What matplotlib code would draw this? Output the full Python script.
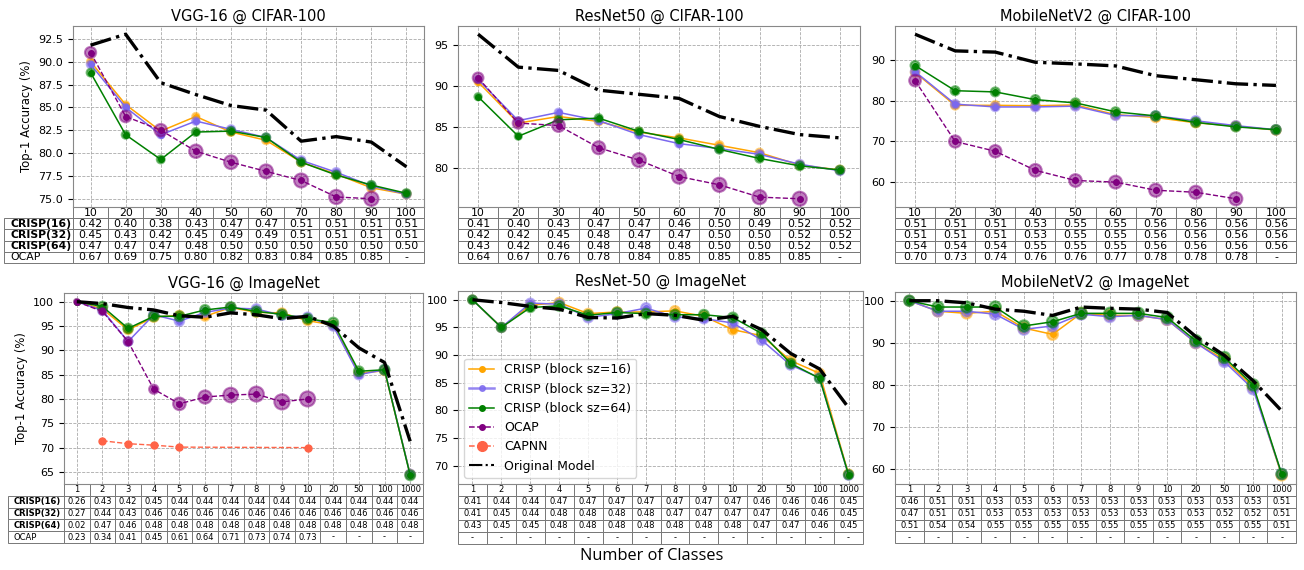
import matplotlib
matplotlib.use('Agg')
import matplotlib.pyplot as plt
from matplotlib.lines import Line2D

cifar_classes = ['10', '20', '30', '40', '50', '60', '70', '80', '90', '100']
imnet_classes = ['1', '2', '3', '4', '5', '6', '7', '8', '9', '10', '20', '50', '100', '1000']

# VGG-16 @ CIFAR-100
vgg_c_orig = [91.8, 93.0, 87.7, 86.4, 85.2, 84.7, 81.3, 81.8, 81.2, 78.5]
vgg_c_16 = [90.0, 85.3, 82.4, 84.0, 82.3, 81.4, 79.0, 77.7, 76.2, 75.5]
vgg_c_32 = [89.7, 85.0, 82.0, 83.5, 82.6, 81.7, 79.2, 77.9, 76.4, 75.5]
vgg_c_64 = [88.8, 82.0, 79.3, 82.3, 82.4, 81.7, 79.0, 77.6, 76.5, 75.6]
vgg_c_ocap = [91.0, 84.0, 82.5, 80.2, 79.0, 78.0, 77.0, 75.2, 75.0, None]
vgg_c_s16 = [0.42, 0.40, 0.38, 0.43, 0.47, 0.47, 0.51, 0.51, 0.51, 0.51]
vgg_c_s32 = [0.45, 0.43, 0.42, 0.45, 0.49, 0.49, 0.51, 0.51, 0.51, 0.51]
vgg_c_s64 = [0.47, 0.47, 0.47, 0.48, 0.50, 0.50, 0.50, 0.50, 0.50, 0.50]
vgg_c_socap = [0.67, 0.69, 0.75, 0.80, 0.82, 0.83, 0.84, 0.85, 0.85, None]

# ResNet50 @ CIFAR-100
res_c_orig = [96.3, 92.3, 91.9, 89.5, 89.0, 88.5, 86.3, 85.1, 84.1, 83.7]
res_c_16 = [90.5, 85.5, 86.3, 85.7, 84.4, 83.7, 82.8, 81.9, 80.4, 79.8]
res_c_32 = [90.8, 85.8, 86.8, 85.8, 84.1, 83.0, 82.4, 81.7, 80.5, 79.7]
res_c_64 = [88.7, 83.9, 85.9, 86.1, 84.5, 83.5, 82.3, 81.2, 80.3, 79.8]
res_c_ocap = [91.0, 85.5, 85.2, 82.5, 81.0, 79.0, 78.0, 76.5, 76.3, None]
res_c_s16 = [0.41, 0.40, 0.43, 0.47, 0.47, 0.46, 0.50, 0.49, 0.52, 0.52]
res_c_s32 = [0.42, 0.42, 0.45, 0.48, 0.47, 0.47, 0.50, 0.50, 0.52, 0.52]
res_c_s64 = [0.43, 0.42, 0.46, 0.48, 0.48, 0.48, 0.50, 0.50, 0.52, 0.52]
res_c_socap = [0.64, 0.67, 0.76, 0.78, 0.84, 0.85, 0.85, 0.85, 0.85, None]

# MobileNetV2 @ CIFAR-100
mob_c_orig = [96.4, 92.3, 92.0, 89.5, 89.1, 88.6, 86.2, 85.2, 84.2, 83.8]
mob_c_16 = [87.0, 78.9, 78.9, 78.8, 79.0, 76.6, 75.9, 74.6, 73.8, 72.8]
mob_c_32 = [87.2, 79.2, 78.5, 78.5, 78.7, 76.4, 76.3, 75.1, 73.9, 72.9]
mob_c_64 = [88.7, 82.5, 82.2, 80.3, 79.5, 77.3, 76.3, 74.7, 73.6, 72.9]
mob_c_ocap = [85.0, 70.0, 67.6, 62.9, 60.4, 60.0, 58.0, 57.5, 55.9, None]
mob_c_s16 = [0.51, 0.51, 0.51, 0.53, 0.55, 0.55, 0.56, 0.56, 0.56, 0.56]
mob_c_s32 = [0.51, 0.51, 0.51, 0.53, 0.55, 0.55, 0.56, 0.56, 0.56, 0.56]
mob_c_s64 = [0.54, 0.54, 0.54, 0.55, 0.55, 0.55, 0.56, 0.56, 0.56, 0.56]
mob_c_socap = [0.70, 0.73, 0.74, 0.76, 0.76, 0.77, 0.78, 0.78, 0.78, None]

# VGG-16 @ ImageNet
vgg_i_orig = [100.0, 99.6, 98.8, 98.3, 97.1, 96.8, 97.7, 97.3, 96.5, 97.0, 95.0, 90.5, 87.5, 71.3]
vgg_i_16 = [100.0, 98.5, 94.2, 96.8, 97.2, 97.0, 98.8, 97.8, 97.7, 96.1, 95.2, 85.3, 85.8, 64.5]
vgg_i_32 = [100.0, 98.2, 91.8, 97.3, 96.0, 97.8, 98.7, 98.5, 97.2, 96.8, 95.0, 85.0, 86.0, 64.5]
vgg_i_64 = [100.0, 99.0, 94.5, 97.0, 97.0, 98.3, 98.9, 98.0, 97.4, 96.5, 95.7, 85.7, 86.0, 64.3]
vgg_i_ocap = [100.0, 98.0, 91.8, 82.0, 79.0, 80.4, 80.8, 81.0, 79.4, 80.0, None, None, None, None]
vgg_i_capnn = [None, 71.4, 70.8, 70.5, 70.1, None, None, None, None, 70.0, None, None, None, None]
vgg_i_s16 = [0.26, 0.43, 0.42, 0.45, 0.44, 0.44, 0.44, 0.44, 0.44, 0.44, 0.44, 0.44, 0.44, 0.44]
vgg_i_s32 = [0.27, 0.44, 0.43, 0.46, 0.46, 0.46, 0.46, 0.46, 0.46, 0.46, 0.46, 0.46, 0.46, 0.46]
vgg_i_s64 = [0.02, 0.47, 0.46, 0.48, 0.48, 0.48, 0.48, 0.48, 0.48, 0.48, 0.48, 0.48, 0.48, 0.48]
vgg_i_socap = [0.23, 0.34, 0.41, 0.45, 0.61, 0.64, 0.71, 0.73, 0.74, 0.73, None, None, None, None]

# ResNet-50 @ ImageNet
res_i_orig = [100.0, 99.5, 98.8, 98.3, 96.8, 96.7, 97.5, 97.2, 96.3, 97.0, 94.6, 90.3, 87.5, 80.5]
res_i_16 = [100.0, 95.0, 99.0, 99.5, 97.5, 97.8, 97.8, 98.0, 97.0, 94.6, 93.5, 89.0, 86.7, 68.5]
res_i_32 = [100.0, 95.0, 99.4, 99.2, 96.8, 97.5, 98.5, 96.9, 96.6, 95.8, 92.7, 88.2, 85.9, 68.3]
res_i_64 = [100.0, 95.0, 98.6, 98.9, 97.2, 97.7, 97.5, 97.3, 97.3, 96.8, 93.9, 88.5, 85.8, 68.4]
res_i_none = [None] * 14
res_i_s16 = [0.41, 0.44, 0.44, 0.47, 0.47, 0.47, 0.47, 0.47, 0.47, 0.47, 0.46, 0.46, 0.46, 0.45]
res_i_s32 = [0.41, 0.45, 0.44, 0.48, 0.48, 0.48, 0.48, 0.47, 0.47, 0.47, 0.47, 0.46, 0.46, 0.45]
res_i_s64 = [0.43, 0.45, 0.45, 0.48, 0.48, 0.48, 0.48, 0.48, 0.48, 0.48, 0.47, 0.47, 0.46, 0.45]

# MobileNetV2 @ ImageNet
mob_i_orig = [100.0, 100.0, 99.5, 98.0, 97.5, 96.5, 98.5, 98.2, 98.0, 97.2, 91.5, 87.0, 81.0, 73.8]
mob_i_16 = [100.0, 97.5, 97.0, 97.5, 93.5, 92.0, 97.0, 96.5, 96.5, 95.5, 90.0, 86.0, 79.5, 58.5]
mob_i_32 = [100.0, 97.5, 97.5, 96.8, 93.2, 94.0, 96.8, 96.2, 96.5, 95.5, 90.0, 85.5, 79.0, 58.8]
mob_i_64 = [100.0, 98.5, 98.5, 98.5, 94.0, 95.0, 97.0, 97.0, 97.0, 96.0, 90.5, 86.5, 80.0, 58.8]
mob_i_s16 = [0.46, 0.51, 0.51, 0.53, 0.53, 0.53, 0.53, 0.53, 0.53, 0.53, 0.53, 0.53, 0.53, 0.51]
mob_i_s32 = [0.47, 0.51, 0.51, 0.53, 0.53, 0.53, 0.53, 0.53, 0.53, 0.53, 0.53, 0.52, 0.52, 0.51]
mob_i_s64 = [0.51, 0.54, 0.54, 0.55, 0.55, 0.55, 0.55, 0.55, 0.55, 0.55, 0.55, 0.55, 0.55, 0.51]

row_names = ['CRISP(16)', 'CRISP(32)', 'CRISP(64)', 'OCAP']
c16, c32, c64, cocap, ccap = 'orange', 'mediumslateblue', 'green', 'purple', 'tomato'

W, H = 1304, 570
fig = plt.figure(figsize=(W / 100, H / 100), dpi=100)


def px_axes(l, t, r, b):
    return fig.add_axes([l / W, 1 - b / H, (r - l) / W, (b - t) / H])


def pts(xs, ys):
    # drop the missing entries
    keep = [(x, y) for x, y in zip(xs, ys) if y is not None]
    return [k[0] for k in keep], [k[1] for k in keep]


def series(ax, y, s, color, k, ls='-', lw=1.1):
    x = list(range(len(y)))
    xx, yy = pts(x, y)
    if not xx:
        return
    ax.plot(xx, yy, color=color, ls=ls, lw=lw, marker='o', ms=4, zorder=3)
    _, ss = pts(x, [v if yv is not None else None for v, yv in zip(s, y)])
    ax.scatter(xx, yy, s=[k * v ** 2 for v in ss], color=color, alpha=0.5,
               edgecolors=color, linewidths=1.5, zorder=3)


def panel(ax, classes, title, orig, y16, y32, y64, yocap, s16, s32, s64, socap,
          k, fs_table, rlw=0.0, ylabel=False, capnn=None):
    series(ax, y16, s16, c16, k)
    series(ax, y32, s32, c32, k)
    series(ax, y64, s64, c64, k)
    series(ax, yocap, socap, cocap, k, ls='--', lw=1.0)
    if capnn is not None:
        xx, yy = pts(range(len(capnn)), capnn)
        ax.plot(xx, yy, color=ccap, ls='--', lw=1.0, marker='o', ms=5, zorder=3)
    ax.plot(range(len(orig)), orig, color='black', ls='-.', lw=2.4, zorder=4)

    n = len(classes)
    ax.set_xlim(-0.5, n - 0.5)
    ax.set_xticks(range(n))
    ax.tick_params(axis='x', length=0, labelbottom=False)
    ax.tick_params(axis='y', labelsize=8)
    ax.grid(True, ls='--', lw=0.6, color='#aaaaaa')
    ax.set_axisbelow(True)
    for sp in ax.spines.values():
        sp.set_color('#888888')
    ax.set_title(title, fontsize=10.5, pad=4)
    if ylabel:
        ax.set_ylabel('Top-1 Accuracy (%)', fontsize=8.4)

    fmt = lambda v: '-' if v is None else '%.2f' % v
    rows = [[fmt(v) for v in r] for r in [s16, s32, s64, socap]]
    h = 0.309
    if rlw > 0:
        text = [[''] + classes] + [[nm] + r for nm, r in zip(row_names, rows)]
        widths = [rlw] + [1.0 / n] * n
        bbox = [-rlw, -h, 1 + rlw, h]
    else:
        text = [classes] + rows
        widths = [1.0 / n] * n
        bbox = [0, -h, 1, h]
    tb = ax.table(cellText=text, colWidths=widths, cellLoc='center', bbox=bbox)
    tb.auto_set_font_size(False)
    tb.set_fontsize(fs_table)
    for (r, c), cell in tb.get_celld().items():
        cell.set_edgecolor('#777777')
        cell.set_linewidth(0.7)
        if rlw > 0 and c == 0:
            cell.set_text_props(ha='left')
            if r == 0:
                cell.visible_edges = ''
            elif r <= 3:
                cell.set_text_props(fontweight='bold')


ax1 = px_axes(73, 26, 424, 207)
panel(ax1, cifar_classes, 'VGG-16 @ CIFAR-100', vgg_c_orig, vgg_c_16, vgg_c_32, vgg_c_64,
      vgg_c_ocap, vgg_c_s16, vgg_c_s32, vgg_c_s64, vgg_c_socap, 145, 7.8, rlw=0.197, ylabel=True)
ax1.set_yticks([75.0, 77.5, 80.0, 82.5, 85.0, 87.5, 90.0, 92.5])

ax2 = px_axes(458, 26, 860, 207)
panel(ax2, cifar_classes, 'ResNet50 @ CIFAR-100', res_c_orig, res_c_16, res_c_32, res_c_64,
      res_c_ocap, res_c_s16, res_c_s32, res_c_s64, res_c_socap, 145, 7.8)

ax3 = px_axes(895, 26, 1296, 207)
panel(ax3, cifar_classes, 'MobileNetV2 @ CIFAR-100', mob_c_orig, mob_c_16, mob_c_32, mob_c_64,
      mob_c_ocap, mob_c_s16, mob_c_s32, mob_c_s64, mob_c_socap, 145, 7.8)

ax4 = px_axes(64, 293, 423, 484)
panel(ax4, imnet_classes, 'VGG-16 @ ImageNet', vgg_i_orig, vgg_i_16, vgg_i_32, vgg_i_64,
      vgg_i_ocap, vgg_i_s16, vgg_i_s32, vgg_i_s64, vgg_i_socap, 220, 6, rlw=0.156,
      ylabel=True, capnn=vgg_i_capnn)

ax5 = px_axes(458, 291, 863, 484)
panel(ax5, imnet_classes, 'ResNet-50 @ ImageNet', res_i_orig, res_i_16, res_i_32, res_i_64,
      res_i_none, res_i_s16, res_i_s32, res_i_s64, res_i_none, 220, 6)

ax6 = px_axes(895, 292, 1296, 484)
panel(ax6, imnet_classes, 'MobileNetV2 @ ImageNet', mob_i_orig, mob_i_16, mob_i_32, mob_i_64,
      res_i_none, mob_i_s16, mob_i_s32, mob_i_s64, res_i_none, 220, 6)

handles = [
    Line2D([], [], color=c16, marker='o', ms=4, lw=1.1),
    Line2D([], [], color=c32, marker='o', ms=4, lw=1.8, alpha=0.8),
    Line2D([], [], color=c64, marker='o', ms=4, lw=1.1),
    Line2D([], [], color=cocap, marker='o', ms=4, lw=1.1, ls='--'),
    Line2D([], [], color=ccap, marker='o', ms=7, lw=1.1, ls='--'),
    Line2D([], [], color='black', lw=1.5, ls='-.'),
]
labels = ['CRISP (block sz=16)', 'CRISP (block sz=32)', 'CRISP (block sz=64)',
          'OCAP', 'CAPNN', 'Original Model']
ax5.legend(handles, labels, loc='lower left', fontsize=9, framealpha=0.8)

fig.text(0.5, 1 - 556 / H, 'Number of Classes', ha='center', va='center',
         fontsize=11.8, family=['Open Sans', 'DejaVu Sans'])

fig.savefig('out.png', dpi=100)
